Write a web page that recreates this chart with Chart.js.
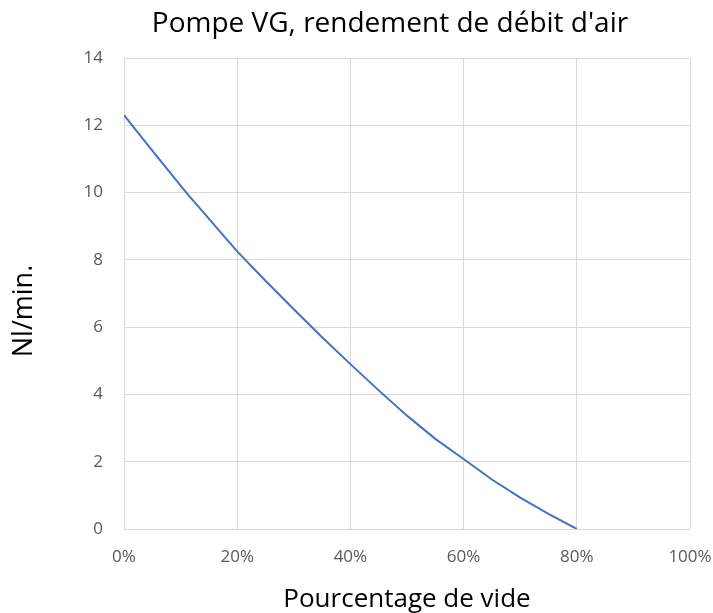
<!DOCTYPE html>
<html>
<head>
<meta charset="utf-8">
<script src="https://cdn.jsdelivr.net/npm/chart.js@4/dist/chart.umd.min.js"></script>
<style>
html,body{margin:0;padding:0;background:#fff;}
#wrap{width:713px;height:613px;position:relative;}
</style>
</head>
<body>
<div id="wrap"><canvas id="c" width="713" height="613"></canvas></div>
<script>
const vacuumPct = [0, 2, 5, 8, 11, 14, 17, 20, 25, 30, 35, 40, 45, 50, 55, 60, 65, 70, 75, 80];
const flowNlMin = [12.3, 11.88, 11.25, 10.62, 10.0, 9.42, 8.83, 8.25, 7.38, 6.53, 5.7, 4.9, 4.12, 3.37, 2.68, 2.08, 1.47, 0.93, 0.45, 0.0];
const xTicks = [0, 20, 40, 60, 80, 100];
const yTicks = [0, 2, 4, 6, 8, 10, 12, 14];
const titleText = "Pompe VG, rendement de débit d'air";
const xTitle = "Pourcentage de vide";
const yTitle = "Nl/min.";

const points = vacuumPct.map((x, i) => ({x: x, y: flowNlMin[i]}));
const font = "'Open Sans', 'Noto Sans', sans-serif";

const titles = {
  id: 'titles',
  afterDraw(chart) {
    const ctx = chart.ctx;
    const a = chart.chartArea;
    ctx.save();
    ctx.fillStyle = '#000';
    ctx.textAlign = 'center';
    ctx.textBaseline = 'alphabetic';
    ctx.font = "28px " + font;
    ctx.fillText(titleText, 390, 32);
    ctx.font = "26px " + font;
    ctx.fillText(xTitle, (a.left + a.right) / 2, 607);
    ctx.translate(32, 311);
    ctx.rotate(-Math.PI / 2);
    ctx.font = "27px " + font;
    ctx.fillText(yTitle, 0, 0);
    ctx.restore();
  }
};

new Chart(document.getElementById('c'), {
  type: 'line',
  data: {
    datasets: [{
      data: points,
      borderColor: '#4472C4',
      borderWidth: 2,
      pointRadius: 0,
      tension: 0,
      fill: false
    }]
  },
  options: {
    responsive: false,
    animation: false,
    layout: {padding: {left: 0, right: 23, top: 58, bottom: 0}},
    plugins: {
      legend: {display: false},
      tooltip: {enabled: false},
      title: {display: false}
    },
    scales: {
      x: {
        type: 'linear',
        min: 0, max: 100,
        afterBuildTicks: s => { s.ticks = xTicks.map(v => ({value: v})); },
        afterFit: s => { s.height = 84; s.paddingLeft = 0; s.paddingRight = 0; },
        grid: {color: '#d9d9d9', drawTicks: false},
        border: {display: false},
        ticks: {
          color: '#595959',
          font: {family: font, size: 17},
          padding: 18,
          maxRotation: 0,
          callback: v => v + '%'
        }
      },
      y: {
        type: 'linear',
        min: 0, max: 14,
        afterBuildTicks: s => { s.ticks = yTicks.map(v => ({value: v})); },
        afterFit: s => { s.width = 124; s.paddingTop = 0; s.paddingBottom = 0; },
        grid: {color: '#d9d9d9', drawTicks: false},
        border: {display: false},
        ticks: {
          color: '#595959',
          font: {family: font, size: 17},
          padding: 21
        }
      }
    }
  },
  plugins: [titles]
});
</script>
</body>
</html>
